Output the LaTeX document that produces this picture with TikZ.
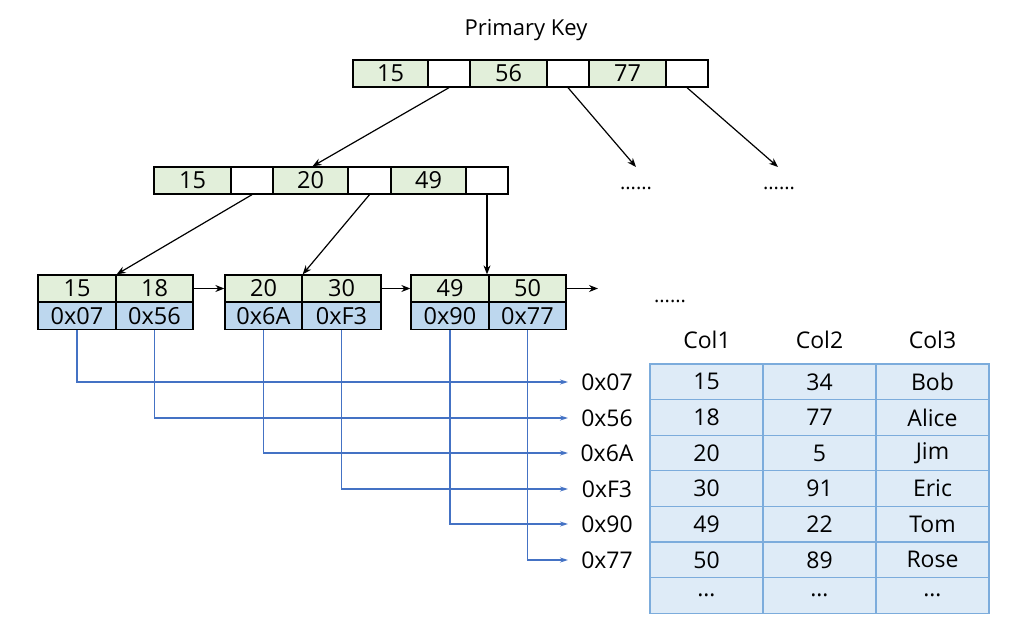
\documentclass[tikz,border=0pt]{standalone}
\usepackage{fontspec}
\setmainfont{Open Sans}
\usetikzlibrary{arrows.meta}
\definecolor{gfill}{RGB}{226,239,218}
\definecolor{bfill}{RGB}{189,215,238}
\definecolor{tfill}{RGB}{222,235,247}
\definecolor{tline}{RGB}{124,172,220}
\definecolor{bline}{RGB}{68,114,196}
\begin{document}
\begin{tikzpicture}[x=1pt,y=-1pt,
  cell/.style={draw=black,line width=1.3pt,inner sep=0pt,minimum height=27pt,font=\fontsize{23.5}{27}\selectfont},
  gcell/.style={cell,fill=gfill},
  bcell/.style={cell,fill=bfill},
  ecell/.style={cell,fill=white},
  tarrow/.style={draw=black,line width=1.2pt,-{Stealth[length=9pt,width=7pt]}},
  barrow/.style={draw=bline,line width=1.4pt,-{Stealth[length=8pt,width=5pt]}},
  addr/.style={inner sep=0pt,font=\fontsize{23}{27}\selectfont},
  tcell/.style={draw=tline,fill=tfill,line width=1.2pt,inner sep=0pt,minimum width=113pt,minimum height=35.6pt,font=\fontsize{23}{27}\selectfont},
  hdr/.style={inner sep=0pt,font=\fontsize{23}{27}\selectfont},
  dots/.style={inner sep=0pt,font=\fontsize{20}{24}\selectfont}]
\useasboundingbox (0,0) rectangle (1009,627);
% title
\node[inner sep=0pt,font=\fontsize{22}{26}\selectfont] (title) at (526,30) {Primary Key};
% root
\node[gcell,minimum width=75pt] (r15) at (390.5,73.5) {15};
\node[ecell,minimum width=42pt] (rb1) at (449,73.5) {};
\node[gcell,minimum width=77pt] (r56) at (508.5,73.5) {56};
\node[ecell,minimum width=42pt] (rb2) at (568,73.5) {};
\node[gcell,minimum width=77pt] (r77) at (627.5,73.5) {77};
\node[ecell,minimum width=42pt] (rb3) at (687,73.5) {};
% level 2
\node[gcell,minimum width=77pt] (m15) at (192.5,180.5) {15};
\node[ecell,minimum width=42pt] (mb1) at (252,180.5) {};
\node[gcell,minimum width=75pt] (m20) at (310.5,180.5) {20};
\node[ecell,minimum width=43pt] (mb2) at (369.5,180.5) {};
\node[gcell,minimum width=75pt] (m49) at (428.5,180.5) {49};
\node[ecell,minimum width=42pt] (mb3) at (487,180.5) {};
% leaves
\node[gcell,minimum width=78pt] (l15) at (77,288.5) {15};
\node[gcell,minimum width=77pt] (l18) at (154.5,288.5) {18};
\node[bcell,minimum width=78pt] (a07) at (77,316) {0x07};
\node[bcell,minimum width=77pt] (a56) at (154.5,316) {0x56};
\node[gcell,minimum width=77pt] (l20) at (263.5,288.5) {20};
\node[gcell,minimum width=79pt] (l30) at (341.5,288.5) {30};
\node[bcell,minimum width=77pt] (a6A) at (263.5,316) {0x6A};
\node[bcell,minimum width=79pt] (aF3) at (341.5,316) {0xF3};
\node[gcell,minimum width=78pt] (l49) at (450,288.5) {49};
\node[gcell,minimum width=77pt] (l50) at (527.5,288.5) {50};
\node[bcell,minimum width=78pt] (a90) at (450,316) {0x90};
\node[bcell,minimum width=77pt] (a77) at (527.5,316) {0x77};
% dots
\coordinate (e2) at (636,167);
\coordinate (e3) at (778,167);
\node[dots] (d2) at (636,188) {......};
\node[dots] (d3) at (779,188) {......};
\node[dots] (d4) at (670,301) {......};
\coordinate (lend) at (598,288.5);
% tree arrows
\draw[tarrow] (rb1.south) -- ([xshift=2pt]m20.north);
\draw[tarrow] (rb2.south) -- (e2);
\draw[tarrow] (rb3.south) -- (e3);
\draw[tarrow] (mb1.south) -- (l15.north east);
\draw[tarrow] (mb2.south) -- (l20.north east);
\draw[tarrow] (mb3.south) -- (mb3.south |- l49.north);
\draw[tarrow] (l18.east) -- (l20.west);
\draw[tarrow] (l30.east) -- (l49.west);
\draw[tarrow] (l50.east) -- (lend);
% address labels
\node[addr] (p07) at (607,382) {0x07};
\node[addr] (p56) at (607,418) {0x56};
\node[addr] (p6A) at (607,453) {0x6A};
\node[addr] (pF3) at (607,489) {0xF3};
\node[addr] (p90) at (607,524) {0x90};
\node[addr] (p77) at (607,560) {0x77};
\draw[barrow] (a07.south) |- ([xshift=-39pt]p07.center);
\draw[barrow] (a56.south) |- ([xshift=-39pt]p56.center);
\draw[barrow] (a6A.south) |- ([xshift=-39pt]p6A.center);
\draw[barrow] (aF3.south) |- ([xshift=-39pt]pF3.center);
\draw[barrow] (a90.south) |- ([xshift=-39pt]p90.center);
\draw[barrow] (a77.south) |- ([xshift=-39pt]p77.center);
% table headers
\node[hdr] (h1) at (707,340) {Col1};
\node[hdr] (h2) at (819.5,340) {Col2};
\node[hdr] (h3) at (932.5,340) {Col3};
% table
\foreach \r/\a/\b [count=\i] in {15/34/Bob,18/77/Alice,20/5/Jim,30/91/Eric,49/22/Tom,50/89/Rose,\dots/\dots/\dots}{
  \node[tcell] (t\i a) at (706.5,{364+35.6*(\i-0.5)}) {\r};
  \node[tcell] (t\i b) at (819.5,{364+35.6*(\i-0.5)}) {\a};
  \node[tcell] (t\i c) at (932.5,{364+35.6*(\i-0.5)}) {\b};
}
\end{tikzpicture}
\end{document}
